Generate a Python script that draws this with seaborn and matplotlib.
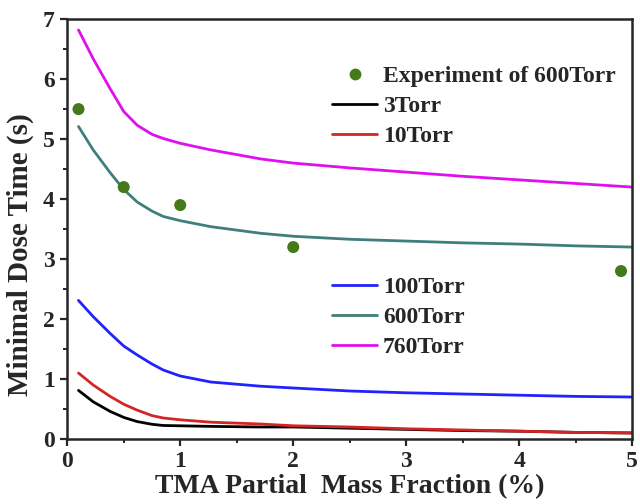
import numpy as np
import pandas as pd
import matplotlib.pyplot as plt
import seaborn as sns
from matplotlib.ticker import MultipleLocator
from matplotlib.lines import Line2D

# ── Data ─────────────────────────────────────────────────────────────────────
x_frac = [0.1, 0.23, 0.38, 0.5, 0.62, 0.75, 0.85, 1.0, 1.27, 1.71,
          2.0, 2.5, 3.0, 3.5, 4.0, 4.5, 5.0]
t_3torr   = [0.81, 0.62, 0.46, 0.36, 0.29, 0.245, 0.225, 0.22, 0.21, 0.20,
             0.20, 0.18, 0.16, 0.14, 0.13, 0.11, 0.10]
t_10torr  = [1.10, 0.90, 0.71, 0.58, 0.48, 0.39, 0.35, 0.32, 0.28, 0.25,
             0.22, 0.20, 0.17, 0.15, 0.13, 0.11, 0.10]
t_100torr = [2.31, 2.04, 1.76, 1.55, 1.40, 1.25, 1.15, 1.05, 0.95, 0.88,
             0.85, 0.80, 0.77, 0.75, 0.73, 0.71, 0.70]
t_600torr = [5.21, 4.82, 4.44, 4.16, 3.95, 3.80, 3.71, 3.64, 3.54, 3.43,
             3.38, 3.33, 3.30, 3.27, 3.25, 3.22, 3.20]
t_760torr = [6.82, 6.34, 5.84, 5.46, 5.23, 5.08, 5.01, 4.93, 4.82, 4.67,
             4.60, 4.52, 4.45, 4.38, 4.32, 4.26, 4.20]

exp_x = [0.1, 0.5, 1.0, 2.0, 4.9]
exp_y = [5.5, 4.2, 3.9, 3.2, 2.8]

labels = ["3Torr", "10Torr", "100Torr", "600Torr", "760Torr"]
series = [t_3torr, t_10torr, t_100torr, t_600torr, t_760torr]
colors = ["#000000", "#d42424", "#2222ff", "#3f7f7c", "#e010ee"]
C_EXP = "#457a1c"

df = pd.concat([pd.DataFrame({"x": x_frac, "y": s, "p": lab})
                for lab, s in zip(labels, series)], ignore_index=True)
exp_df = pd.DataFrame({"x": exp_x, "y": exp_y})

# ── Style ────────────────────────────────────────────────────────────────────
sns.set_style("ticks")
plt.rcParams["font.family"] = ["Liberation Serif", "DejaVu Serif"]
plt.rcParams["font.weight"] = "bold"

fig = plt.figure(figsize=(6.4, 5.04), dpi=100)
ax = fig.add_axes([0.105, 0.129, 0.883, 0.833])

sns.lineplot(data=df, x="x", y="y", hue="p", palette=dict(zip(labels, colors)),
             linewidth=2.0, ax=ax, legend=False)
sns.scatterplot(data=exp_df, x="x", y="y", color=C_EXP, s=75,
                edgecolor="none", ax=ax, zorder=5)

ax.set_xlim(0, 5)
ax.set_ylim(0, 7)
ax.xaxis.set_major_locator(MultipleLocator(1))
ax.xaxis.set_minor_locator(MultipleLocator(0.5))
ax.yaxis.set_major_locator(MultipleLocator(1))
ax.yaxis.set_minor_locator(MultipleLocator(0.5))
ax.tick_params(which="major", length=5, width=1.6, labelsize=17, pad=4)
ax.tick_params(which="minor", length=3, width=1.4)
for lbl in ax.get_xticklabels() + ax.get_yticklabels():
    lbl.set_fontweight("bold")
for sp in ax.spines.values():
    sp.set_visible(True)
    sp.set_linewidth(1.8)

ax.set_xlabel("TMA Partial  Mass Fraction (%)", fontsize=20, fontweight="bold")
ax.set_ylabel("Minimal Dose Time (s)", fontsize=21, fontweight="bold")
ax.xaxis.set_label_coords(0.5, -0.083)
ax.yaxis.set_label_coords(-0.058, 0.44)

# two legend blocks, as in the original
h_exp = Line2D([], [], marker="o", color=C_EXP, linestyle="none", markersize=7.5)
h_lines = [Line2D([], [], color=c, linewidth=2.0) for c in colors]
leg_kw = dict(frameon=False, handlelength=1.9, handletextpad=0.25,
              labelspacing=0.36, borderaxespad=0, borderpad=0, loc="upper left",
              prop={"weight": "bold", "size": 17})
leg1 = ax.legend([h_exp] + h_lines[:2],
                 ["Experiment of 600Torr", "3Torr", "10Torr"],
                 bbox_to_anchor=(0.469, 0.890), **leg_kw)
ax.add_artist(leg1)
ax.legend(h_lines[2:], labels[2:], bbox_to_anchor=(0.469, 0.387), **leg_kw)

fig.savefig("out.png", dpi=100)
